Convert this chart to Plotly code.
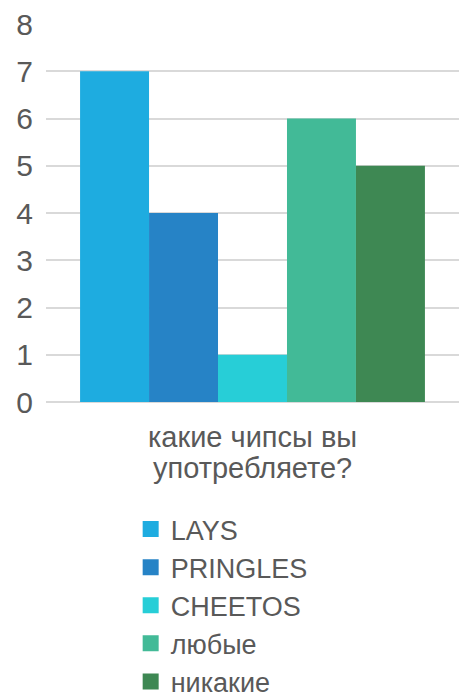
import plotly.graph_objects as go

category = ["какие чипсы вы употребляете?"]
category_lines = ["какие чипсы вы", "употребляете?"]
series_names = ["LAYS", "PRINGLES", "CHEETOS", "любые", "никакие"]
series_values = [7, 4, 1, 6, 5]
colors = ["#1EACE0", "#2683C6", "#27CED7", "#42BA97", "#3E8853"]
y_ticks = [0, 1, 2, 3, 4, 5, 6, 7, 8]

FONT = "Liberation Sans, Arial, sans-serif"
GREY = "#595959"
W, H = 459, 697

fig = go.Figure()
for name, val, col in zip(series_names, series_values, colors):
    fig.add_trace(go.Bar(x=category, y=[val], name=name, legendgroup=name, showlegend=False,
                         marker=dict(color=col, line=dict(width=0))))
# legend entries with larger square swatches, linked to the bars
for name, col in zip(series_names, colors):
    fig.add_trace(go.Scatter(x=[None], y=[None], mode="markers", name=name, legendgroup=name,
                             marker=dict(symbol="square", size=18, color=col), showlegend=True,
                             hoverinfo="skip"))

plot_top, plot_bottom = 24, 402
plot_h = plot_bottom - plot_top
line_centers_px = [437, 468]
for txt, py in zip(category_lines, line_centers_px):
    fig.add_annotation(text=txt, xref="paper", x=0.5, xanchor="center",
                       yref="paper", y=(plot_bottom - py) / plot_h, yanchor="middle",
                       showarrow=False, font=dict(family=FONT, size=29, color=GREY))

fig.update_layout(
    width=W, height=H,
    margin=dict(l=46, r=0, t=plot_top, b=H - plot_bottom),
    paper_bgcolor="white", plot_bgcolor="white",
    barmode="group", bargap=0.165, bargroupgap=0,
    font=dict(family=FONT, color=GREY, size=28),
    yaxis=dict(range=[0, 8], tickvals=y_ticks, showgrid=True, gridcolor="#D9D9D9", gridwidth=2,
               zeroline=True, zerolinecolor="#D9D9D9", zerolinewidth=2,
               tickfont=dict(size=30, color=GREY), ticklabelstandoff=12, fixedrange=True),
    xaxis=dict(showticklabels=False, showline=False, fixedrange=True),
    showlegend=True,
    legend=dict(orientation="v", xref="paper", x=0.205, xanchor="left",
                yref="container", y=1 - 505 / H, yanchor="top",
                font=dict(size=27, color=GREY), itemwidth=30, tracegroupgap=0,
                itemsizing="trace", bgcolor="rgba(0,0,0,0)"),
)

fig.write_html("out.html")
